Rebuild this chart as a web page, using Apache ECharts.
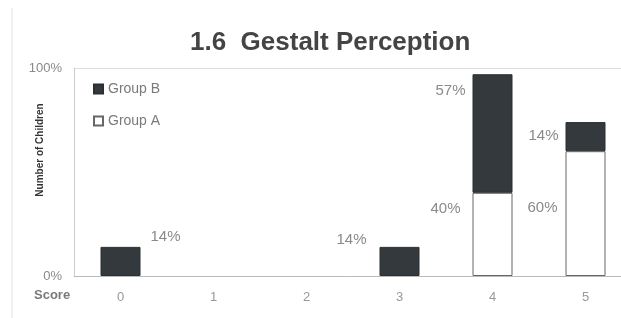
<!DOCTYPE html>
<html>
<head>
<meta charset="utf-8">
<script src="https://cdn.jsdelivr.net/npm/echarts@6/dist/echarts.min.js"></script>
<style>
  html, body { margin: 0; padding: 0; background: #fff; }
  #chart { width: 621px; height: 318px; }
</style>
</head>
<body>
<div id="chart"></div>
<script>
// 分数类别和两组的百分比
var scores = ['0', '1', '2', '3', '4', '5'];
var groupA = [0, 0, 0, 0, 40, 60];
var groupB = [14, 0, 0, 14, 57, 14];
var yTicks = [0, 100];

// 标签位置(相对柱子左上角) —— 样式，不是数据
var posA = [null, null, null, null, [-12, 16], [-8, 57]];
var posB = [[50, -10], null, null, [-13, -7], [-7, 17], [-7, 14]];

function buildData(vals, pos) {
    var res = [];
    for (var i = 0; i < vals.length; i++) {
        if (!(vals[i] > 0)) {
            res.push('-'); // 0 不画柱子
            continue;
        }
        var item = { value: vals[i] };
        if (pos[i]) {
            item.label = {
                show: true,
                position: pos[i],
                align: pos[i][0] > 0 ? 'left' : 'right',
                verticalAlign: 'middle'
            };
        }
        res.push(item);
    }
    return res;
}

var chart = echarts.init(document.getElementById('chart'));
var font = 'Liberation Sans, Arial, sans-serif';
var labelStyle = {
    color: '#8a8a8a',
    fontSize: 15,
    fontFamily: font,
    formatter: '{c}%'
};

var option = {
    animation: false,
    backgroundColor: '#fff',
    title: {
        text: '1.6  Gestalt Perception',
        left: 185,
        top: 25,
        textStyle: { color: '#444', fontSize: 26, fontWeight: 'bold', fontFamily: font }
    },
    legend: {
        orient: 'vertical',
        left: 88,
        top: 77,
        itemGap: 18,
        icon: 'rect',
        itemWidth: 9,
        itemHeight: 9,
        data: ['Group B', 'Group A'],
        textStyle: { color: '#7a7a7a', fontSize: 14, fontFamily: font }
    },
    grid: { left: 74, right: -11, top: 68, bottom: 42, outerBoundsMode: 'none' },
    xAxis: {
        type: 'category',
        data: scores,
        axisLine: { lineStyle: { color: '#bbb' } },
        axisTick: { show: false },
        axisLabel: { color: '#999', fontSize: 13, margin: 15, fontFamily: font }
    },
    yAxis: {
        type: 'value',
        min: yTicks[0],
        max: yTicks[1],
        interval: 100,
        axisLine: { show: true, lineStyle: { color: '#ccc' } },
        axisTick: { show: false },
        splitLine: { lineStyle: { color: '#ddd' } },
        axisLabel: { color: '#8a8a8a', fontSize: 13, margin: 12, formatter: '{value}%', fontFamily: font }
    },
    graphic: [
        { type: 'line', shape: { x1: 12, y1: 8, x2: 12, y2: 318 }, style: { stroke: '#e4e4e4', lineWidth: 1 } },
        {
            type: 'text', left: 34, top: 289,
            style: { text: 'Score', fill: '#7a7a7a', font: 'bold 13px ' + font }
        },
        {
            // y轴名称
            type: 'text', x: 40, y: 150, rotation: Math.PI / 2,
            style: {
                text: 'Number of Children', fill: '#333',
                font: 'bold 10px ' + font, align: 'center', verticalAlign: 'middle'
            }
        }
    ],
    series: [
        {
            name: 'Group A',
            type: 'bar',
            stack: 'total',
            barWidth: 40,
            itemStyle: { color: '#fff', borderColor: '#666', borderWidth: 1 },
            label: labelStyle,
            data: buildData(groupA, posA)
        },
        {
            name: 'Group B',
            type: 'bar',
            stack: 'total',
            barWidth: 40,
            itemStyle: { color: '#33393c', borderColor: '#2a2f31', borderWidth: 1 },
            label: labelStyle,
            data: buildData(groupB, posB)
        }
    ]
};
chart.setOption(option);
</script>
</body>
</html>
